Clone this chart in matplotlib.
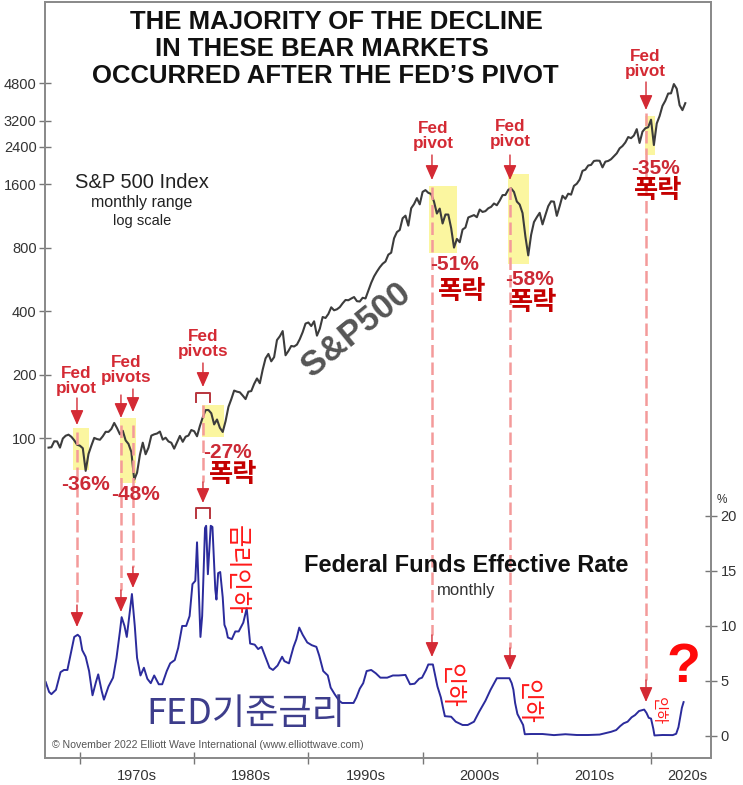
import matplotlib
matplotlib.use("Agg")
import matplotlib.pyplot as plt
from matplotlib.patches import Rectangle
from matplotlib.ticker import NullLocator
from matplotlib.transforms import blended_transform_factory
import numpy as np

plt.rcParams["font.family"] = ["Liberation Sans", "Noto Sans CJK KR", "DejaVu Sans"]

# ---- data -------------------------------------------------------------
# S&P 500, quarter-end levels (a few quarters use the intra-quarter low)
sp_1967_1969 = [90.2, 90.6, 96.7, 96.5, 90.2, 99.6, 102.7, 103.9,
                101.5, 97.7, 93.1, 92.1]
sp_1970s = [89.6, 70.0, 84.2, 92.2, 100.3, 99.0, 98.3, 102.1,
            107.2, 107.1, 110.6, 118.1, 111.5, 104.3, 108.4, 97.6,
            93.9, 86.0, 63.5, 68.6, 83.4, 95.2, 83.9, 90.2,
            102.8, 104.3, 105.2, 107.5, 98.4, 100.5, 96.5, 95.1,
            89.2, 95.5, 102.5, 96.1, 101.6, 102.9, 109.3, 107.9]
sp_1980s = [102.1, 114.2, 125.5, 135.8, 136.0, 131.2, 116.2, 122.6,
            112.0, 107.0, 120.4, 140.6, 153.0, 168.1, 166.1, 164.9,
            159.2, 153.2, 166.1, 167.2, 180.7, 191.9, 182.1, 211.3,
            238.9, 250.8, 231.3, 242.2, 291.7, 304.0, 321.8, 247.1,
            258.9, 273.5, 271.9, 277.7, 294.9, 318.0, 349.2, 353.4]
sp_1990s = [339.9, 358.0, 306.1, 330.2, 375.2, 371.2, 387.9, 417.1,
            403.7, 408.1, 417.8, 435.7, 451.7, 450.5, 458.9, 466.5,
            445.8, 444.3, 462.7, 459.3, 500.7, 544.8, 584.4, 615.9,
            645.5, 670.6, 687.3, 740.7, 757.1, 885.1, 947.3, 970.4,
            1101.8, 1133.8, 1017.0, 1229.2, 1286.4, 1372.7, 1282.7, 1469.3]
sp_2000s = [1498.6, 1454.6, 1436.5, 1320.3, 1160.3, 1224.4, 1040.9, 1148.1,
            1147.4, 989.8, 800.0, 879.8, 848.2, 974.5, 996.0, 1111.9,
            1126.2, 1140.8, 1114.6, 1211.9, 1180.6, 1191.3, 1228.8, 1248.3,
            1294.9, 1270.2, 1335.9, 1418.3, 1420.9, 1503.4, 1526.8, 1468.4,
            1322.7, 1280.0, 1166.4, 903.3, 735.0, 919.3, 1057.1, 1115.1]
sp_2010s = [1169.4, 1030.7, 1141.2, 1257.6, 1325.8, 1320.6, 1131.4, 1257.6,
            1408.5, 1362.2, 1440.7, 1426.2, 1569.2, 1606.3, 1681.6, 1848.4,
            1872.3, 1960.2, 1972.3, 2058.9, 2067.9, 2063.1, 1920.0, 2043.9,
            2059.7, 2098.9, 2168.3, 2238.8, 2362.7, 2423.4, 2519.4, 2673.6,
            2640.9, 2718.4, 2914.0, 2506.9, 2834.4, 2941.8, 2976.7, 3230.8]
sp_2020s = [2450.0, 3100.3, 3363.0, 3756.1, 3972.9, 4297.5, 4307.5, 4766.2,
            4530.4, 3785.4, 3585.6, 3870.0]
sp_values = sp_1967_1969 + sp_1970s + sp_1980s + sp_1990s + sp_2000s + sp_2010s + sp_2020s
sp_dates = 1967.25 + 0.25 * np.arange(len(sp_values))

# Federal funds effective rate (%)
ffr_dates = [1967.0, 1967.3, 1967.5, 1967.9, 1968.3, 1968.6, 1968.9, 1969.3, 1969.5,
             1969.8, 1970.0, 1970.2, 1970.5, 1970.8, 1971.1, 1971.4, 1971.6, 1971.9,
             1972.1, 1972.5, 1972.9, 1973.2, 1973.5, 1973.65, 1973.9, 1974.1, 1974.55,
             1974.8, 1975.0, 1975.3, 1975.6, 1975.9, 1976.2, 1976.5, 1976.9, 1977.2,
             1977.6, 1977.9, 1978.3, 1978.6, 1978.95, 1979.3, 1979.6, 1979.85, 1980.1,
             1980.25, 1980.55, 1980.7, 1980.95, 1981.05, 1981.2, 1981.45, 1981.6,
             1981.85, 1981.95, 1982.1, 1982.28, 1982.5, 1982.65, 1982.8, 1982.95,
             1983.3, 1983.6, 1983.9, 1984.3, 1984.6, 1984.9, 1985.3, 1985.6, 1985.9,
             1986.3, 1986.6, 1986.9, 1987.3, 1987.7, 1987.9, 1988.3, 1988.7, 1988.95,
             1989.2, 1989.5, 1989.9, 1990.3, 1990.7, 1990.95, 1991.3, 1991.7, 1991.95,
             1992.3, 1992.7, 1992.95, 1993.5, 1993.95, 1994.2, 1994.5, 1994.8, 1995.1,
             1995.5, 1995.9, 1996.3, 1996.9, 1997.4, 1997.9, 1998.5, 1998.9, 1999.3,
             1999.7, 1999.95, 2000.3, 2000.5, 2000.9, 2001.1, 2001.3, 2001.6, 2001.8,
             2001.95, 2002.5, 2002.9, 2003.5, 2003.95, 2004.5, 2004.95, 2005.5,
             2005.95, 2006.5, 2007.6, 2007.8, 2007.95, 2008.1, 2008.3, 2008.8, 2008.95,
             2009.5, 2010.5, 2011.5, 2012.5, 2013.5, 2014.5, 2015.5, 2015.95, 2016.5,
             2016.95, 2017.3, 2017.6, 2017.95, 2018.3, 2018.6, 2018.95, 2019.4, 2019.6,
             2019.8, 2020.0, 2020.2, 2020.3, 2021.0, 2021.9, 2022.2, 2022.4, 2022.55,
             2022.7, 2022.85]
ffr_rates = [4.9, 4.0, 3.8, 4.2, 5.8, 6.0, 6.0, 8.0, 9.0,
             9.2, 9.0, 7.8, 7.2, 5.9, 3.7, 4.9, 5.6, 4.1,
             3.3, 4.5, 5.3, 7.1, 9.5, 10.8, 10.0, 9.0, 12.9,
             10.0, 7.1, 5.5, 6.2, 5.2, 4.8, 5.5, 4.7, 4.7,
             5.9, 6.6, 6.9, 8.0, 10.0, 10.0, 10.9, 13.8, 14.1,
             17.6, 9.0, 10.9, 18.9, 19.1, 14.7, 19.1, 19.0,
             13.3, 12.4, 14.8, 14.9, 12.6, 10.1, 9.7, 8.95,
             8.8, 9.5, 9.5, 10.3, 11.6, 8.4, 8.3, 7.9, 8.1,
             7.0, 6.2, 6.0, 6.4, 7.2, 6.8, 6.6, 8.1, 8.8,
             9.85, 9.2, 8.5, 8.25, 8.1, 7.3, 5.9, 5.5, 4.4,
             3.8, 3.2, 3.0, 3.0, 3.0, 3.5, 4.3, 4.8, 5.9,
             6.0, 5.7, 5.3, 5.3, 5.5, 5.5, 5.55, 4.7, 4.75,
             5.2, 5.3, 6.0, 6.5, 6.5, 5.5, 4.5, 3.5, 2.5,
             1.8, 1.75, 1.3, 1.0, 1.0, 1.3, 2.2, 3.2,
             4.2, 5.25, 5.25, 4.8, 4.2, 3.0, 2.0, 1.0, 0.16,
             0.18, 0.18, 0.08, 0.16, 0.09, 0.09, 0.13, 0.24, 0.38,
             0.54, 0.9, 1.15, 1.3, 1.7, 1.9, 2.27, 2.4, 2.1,
             1.65, 1.58, 0.65, 0.05, 0.09, 0.08, 0.2, 0.8, 1.7,
             2.56, 3.08]

# bear markets after each Fed pivot (highlight boxes)
bear_start = [1969.4, 1973.5, 1980.7, 2000.6, 2007.45, 2019.5]
bear_end = [1970.8, 1974.9, 1982.65, 2003.0, 2009.35, 2020.35]
bear_top = [112, 124, 143, 1570, 1780, 3380]
bear_bottom = [71, 61, 101, 752, 667, 2200]
bear_drop = ["-36%", "-48%", "-27%", "-51%", "-58%", "-35%"]

pivot_years = [1969.74, 1973.59, 1974.64, 1980.77, 2000.82, 2007.65, 2019.56]

sp_ticks = [100, 200, 400, 800, 1600, 2400, 3200, 4800]
ffr_ticks = [0, 5, 10, 15, 20]
decades = [1970, 1980, 1990, 2000, 2010, 2020]
decade_labels = ["1970s", "1980s", "1990s", "2000s", "2010s", "2020s"]

# ---- layout helpers (pixel positions in the 743x785 picture) -----------
W, H = 743, 785


def fx(px):
    return px / W


def fy(py):
    return 1 - py / H


RED = "#d42a34"
DASH = "#f49a9a"
BRIGHT = "#ff1a1a"
DARKRED = "#c40000"

fig = plt.figure(figsize=(W / 100, H / 100), dpi=100)
ax = fig.add_axes([fx(45), fy(758), fx(711) - fx(45), fy(2) - fy(758)])
ax2 = ax.twinx()

# S&P 500 (log, left)
for x0, x1, lo, hi in zip(bear_start, bear_end, bear_bottom, bear_top):
    ax.add_patch(Rectangle((x0, lo), x1 - x0, hi - lo, facecolor="#fbf58f",
                           edgecolor="none", alpha=0.85, zorder=1))
ax.plot(sp_dates, sp_values, color="#3c3c3c", lw=1.5, zorder=2)
ax.set_yscale("log")
ax.set_ylim(3.05, 11670)
ax.set_xlim(1966.94, 2025.25)
ax.set_yticks(sp_ticks)
ax.set_yticklabels([str(t) for t in sp_ticks])
ax.yaxis.set_minor_locator(NullLocator())
ax.set_xticks(decades)
ax.set_xticklabels([])
ax.set_xticks([1975, 1985, 1995, 2005, 2015, 2023.2], minor=True)
ax.set_xticklabels(decade_labels, minor=True)
ax.tick_params(axis="y", direction="inout", length=8, width=1, color="#777",
               labelcolor="#333", labelsize=10.5, pad=2)
ax.tick_params(axis="x", which="major", direction="inout", length=8, width=1, color="#777")
ax.tick_params(axis="x", which="minor", length=0, labelcolor="#333", labelsize=10.5, pad=8)

# Fed funds (linear, right)
ax2.plot(ffr_dates, ffr_rates, color="#2b2b9c", lw=1.4, zorder=2)
ax2.set_ylim(-2.0, 66.7)
ax2.set_yticks(ffr_ticks)
ax2.tick_params(axis="y", direction="inout", length=8, width=1, color="#777",
                labelcolor="#333", labelsize=10.5, pad=3)
for a in (ax, ax2):
    for s in a.spines.values():
        s.set_color("#8a8a8a")
        s.set_linewidth(1.3)
fig.text(fx(722), fy(500), "%", fontsize=8.5, color="#333", ha="center", va="center")

# ---- pivot arrows and dashed connectors ------------------------------
tr = blended_transform_factory(ax.transData, fig.transFigure)
head = dict(arrowstyle="-|>,head_length=0.75,head_width=0.33", color=RED, lw=1.0,
            shrinkA=0, shrinkB=0, mutation_scale=12)

sp_arrow = [(398, 425), (395, 418), (389, 412), (363, 387), (155, 180), (155, 180), (82, 110)]
ffr_arrow = [(605, 627), (590, 612), (567, 588), (482, 503), (635, 657), (648, 670), (680, 702)]
dash_span = [(432, 605), (425, 590), (425, 567), (405, 482), (187, 635), (187, 648), (113, 680)]

for yr, (a0, a1), (b0, b1), (d0, d1) in zip(pivot_years, sp_arrow, ffr_arrow, dash_span):
    ax.plot([yr, yr], [fy(d0), fy(d1)], transform=tr, color=DASH, lw=1.8,
            dashes=(5, 2), clip_on=False, zorder=3)
    ax.annotate("", xy=(yr, fy(a1)), xytext=(yr, fy(a0)), xycoords=tr, textcoords=tr,
                arrowprops=head, zorder=4)
    ax.annotate("", xy=(yr, fy(b1)), xytext=(yr, fy(b0)), xycoords=tr, textcoords=tr,
                arrowprops=head, zorder=4)

# brackets around the 1980-81 double pivot
for top, bot in [(393, 402), (508, 518)]:
    yr = pivot_years[3]
    ax.plot([yr - 0.6, yr - 0.6, yr + 0.6, yr + 0.6], [fy(bot), fy(top), fy(top), fy(bot)],
            transform=tr, color="#b8353d", lw=1.4, clip_on=False, zorder=4)

# ---- texts -------------------------------------------------------------
title_font = dict(weight="bold", fontsize=18.5, color="#111", ha="center", va="center")
fig.text(fx(336), fy(22), "THE MAJORITY OF THE DECLINE", **title_font)
fig.text(fx(322), fy(49), "IN THESE BEAR MARKETS", **title_font)
fig.text(fx(325), fy(76), "OCCURRED AFTER THE FED\u2019S PIVOT", **title_font)

fig.text(fx(142), fy(182), "S&P 500 Index", fontsize=14.5, color="#222", ha="center", va="center")
fig.text(fx(142), fy(203), "monthly range", fontsize=11.5, color="#222", ha="center", va="center")
fig.text(fx(142), fy(221), "log scale", fontsize=10.5, color="#222", ha="center", va="center")

fig.text(fx(356), fy(330), "S&P500", weight="bold", fontsize=25, color="#555", rotation=39,
         ha="center", va="center", rotation_mode="anchor")

fig.text(fx(466), fy(566), "Federal Funds Effective Rate", fontsize=17, weight="bold",
         color="#111", ha="center", va="center")
fig.text(fx(466), fy(590), "monthly", fontsize=12, color="#333", ha="center", va="center")

fig.text(fx(246), fy(714), "FED기준금리", family=["Noto Sans CJK KR"], fontsize=26,
         color="#3d3d8b", ha="center", va="center")
fig.text(fx(52), fy(745), "\u00a9 November 2022 Elliott Wave International (www.elliottwave.com)",
         fontsize=7.6, color="#555", ha="left", va="center")

pivot_label = dict(fontsize=12.3, weight="bold", color=RED, ha="center", va="center",
                   linespacing=1.0)
fig.text(fx(76), fy(381), "Fed\npivot", **pivot_label)
fig.text(fx(126), fy(370), "Fed\npivots", **pivot_label)
fig.text(fx(203), fy(344), "Fed\npivots", **pivot_label)
fig.text(fx(433), fy(136), "Fed\npivot", **pivot_label)
fig.text(fx(510), fy(134), "Fed\npivot", **pivot_label)
fig.text(fx(645), fy(64), "Fed\npivot", **pivot_label)

drop_xy = [(85, 485), (135, 495), (227, 452), (455, 265), (530, 280), (655, 168)]
for (px, py), lab in zip(drop_xy, bear_drop):
    fig.text(fx(px), fy(py), lab, fontsize=15, weight="bold", color="#cc2a36",
             ha="center", va="center")

crash_xy = [(233, 475), (462, 292), (533, 302), (658, 190)]
for px, py in crash_xy:
    fig.text(fx(px), fy(py), "폭락", family=["Noto Sans CJK KR"], fontsize=19,
             weight="bold", color=DARKRED, ha="center", va="center")

kr = dict(family=["Noto Sans CJK KR"], color=BRIGHT, rotation=-90, ha="center", va="center")
fig.text(fx(237), fy(570), "금리인하", fontsize=17.5, **kr)
fig.text(fx(451), fy(685), "인하", fontsize=17.5, **kr)
fig.text(fx(528), fy(701), "인하", fontsize=17.5, **kr)
fig.text(fx(658), fy(711), "인하", fontsize=11, **kr)
fig.text(fx(683), fy(668), "?", fontsize=40, weight="bold", color="#ff0a0a",
         ha="center", va="center")

fig.savefig("out.png", dpi=100)
